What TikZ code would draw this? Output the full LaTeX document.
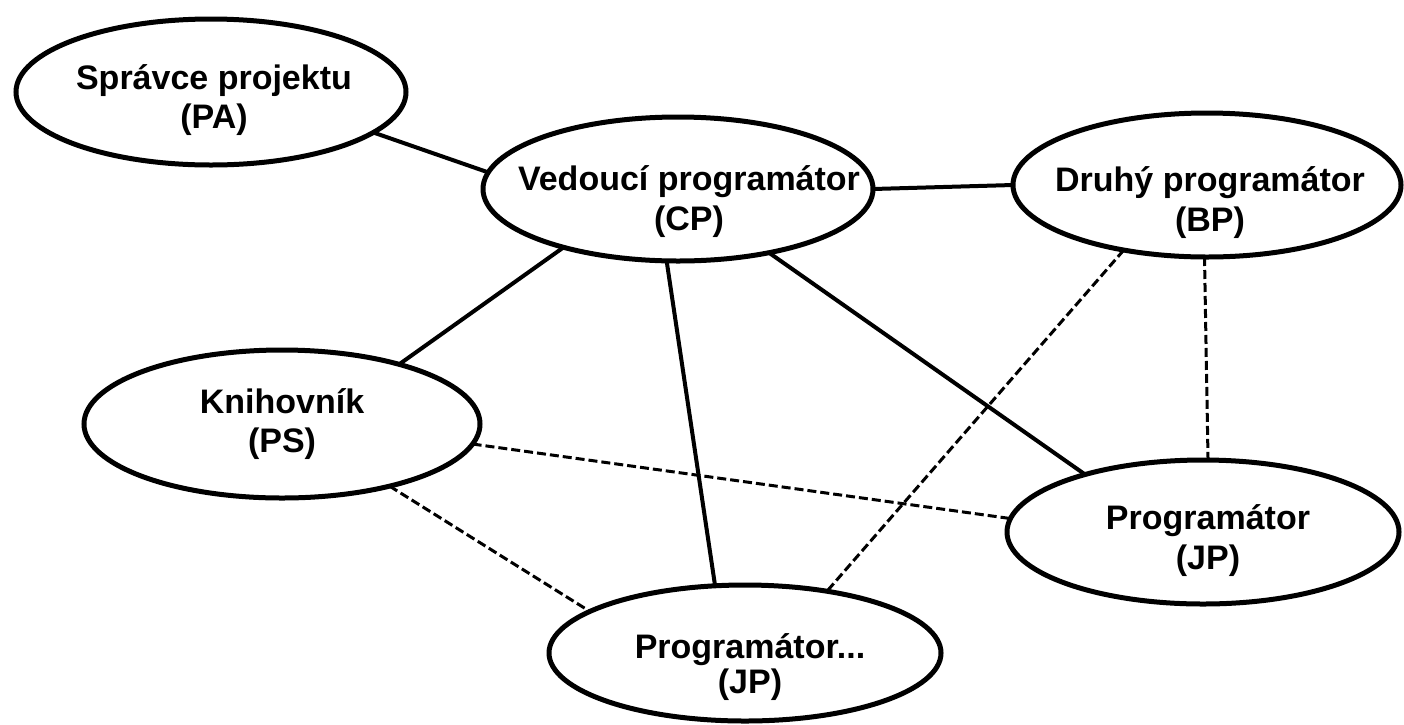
\documentclass[tikz,border=0pt]{standalone}
\usepackage{fontspec}
\setmainfont{Liberation Sans}
\usetikzlibrary{shapes.geometric}
\tikzset{
  role/.style={draw=black, line width=5pt, ellipse, inner sep=0pt, outer sep=0pt},
  lbl/.style={align=center, inner sep=0pt, text=black},
  solidlink/.style={draw=black, line width=4pt},
  dashlink/.style={draw=black, line width=3pt, dash pattern=on 9pt off 4pt},
}
\newcommand{\lblfont}[1]{\fontsize{34}{#1}\selectfont\bfseries}
\begin{document}
\begin{tikzpicture}[x=1pt, y=-1pt]
\useasboundingbox (0,0) rectangle (1404,724);
\fill[white] (0,0) rectangle (1404,724);
% ellipses
\node[role, minimum width=390pt, minimum height=146pt] (PA) at (211,92) {};
\node[role, minimum width=390pt, minimum height=144pt] (CP) at (678,189) {};
\node[role, minimum width=388pt, minimum height=144pt] (BP) at (1207,185) {};
\node[role, minimum width=396pt, minimum height=148pt] (PS) at (282,424) {};
\node[role, minimum width=392pt, minimum height=144pt] (JR) at (1203,532) {};
\node[role, minimum width=392pt, minimum height=136pt] (JB) at (745,653) {};
% labels
\node[lbl, font=\lblfont{39}] (PAt) at (214,100) {Správce projektu\\(PA)};
\node[lbl, font=\lblfont{40}] (CPt) at (689,202) {Vedoucí programátor\\(CP)};
\node[lbl, font=\lblfont{40}] (BPt) at (1210,203) {Druhý programátor\\(BP)};
\node[lbl, font=\lblfont{39}] (PSt) at (282,424) {Knihovník\\(PS)};
\node[lbl, font=\lblfont{40}] (JRt) at (1208,541) {Programátor\\(JP)};
\node[lbl, font=\lblfont{35}] (JBt) at (750,667) {Programátor...\\(JP)};
% solid connectors
\draw[solidlink] (PA.-14) -- (CP.175);
\draw[solidlink] (CP.0) -- (BP.180);
\draw[solidlink] (CP.207) -- (PS.27);
\draw[solidlink] (CP.261) -- (JB.114.5);
\draw[solidlink] (CP.-35) -- (JR.154);
% dashed connectors
\draw[dashlink] (BP.218.7) -- (JB.37.4);
\draw[dashlink] (BP.268) -- (JR.86);
\draw[dashlink] (PS.-6.7) -- (JR.176.6);
\draw[dashlink] (PS.-30.7) -- (JB.165.1);
\end{tikzpicture}
\end{document}
